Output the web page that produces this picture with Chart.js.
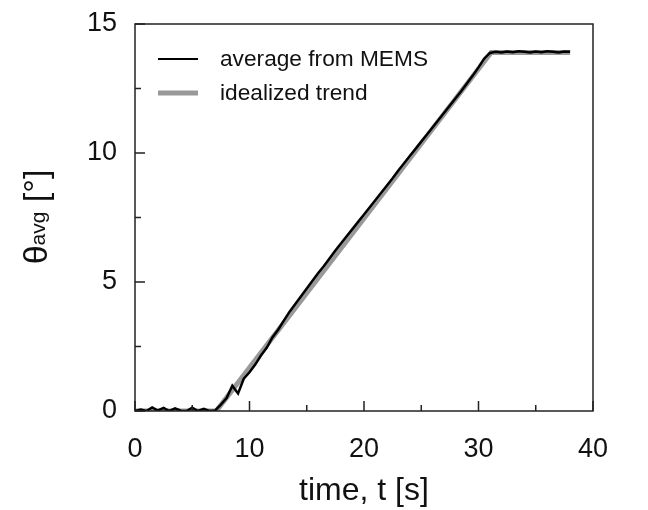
<!DOCTYPE html>
<html lang="en">
<head>
    <meta charset="UTF-8">
    <title>MEMS tilt ramp</title>
    <script src="https://cdn.jsdelivr.net/npm/chart.js"></script>
</head>
<style>
    html, body{
        margin: 0;
        padding: 0;
        background: #ffffff;
    }
    .box{
        width: 648px;
        height: 510px;
    }
</style>
<body>
    <div class="box">
        <canvas id="graficoTheta" width="648" height="510"></canvas>
    </div>
<script>
// measured average angle (MEMS), sampled every 0.5 s
const timeMems = [
  0, 0.5, 1, 1.5, 2, 2.5, 3, 3.5, 4, 4.5, 5, 5.5, 6, 6.5, 7, 7.5, 8, 8.5, 9, 9.5,
  10, 10.5, 11, 11.5, 12, 12.5, 13, 13.5, 14, 14.5, 15, 15.5, 16, 16.5, 17, 17.5, 18, 18.5, 19, 19.5,
  20, 20.5, 21, 21.5, 22, 22.5, 23, 23.5, 24, 24.5, 25, 25.5, 26, 26.5, 27, 27.5, 28, 28.5, 29, 29.5,
  30, 30.5, 31, 31.5, 32, 32.5, 33, 33.5, 34, 34.5, 35, 35.5, 36, 36.5, 37, 37.5, 38
];
const thetaMems = [
  0.00, 0.06, 0.00, 0.14, 0.02, 0.12, 0.00, 0.10, 0.01, 0.00, 0.13, 0.00, 0.08, 0.00, 0.02, 0.25, 0.50, 0.98, 0.68, 1.25,
  1.50, 1.80, 2.15, 2.45, 2.85, 3.15, 3.50, 3.85, 4.15, 4.45, 4.75, 5.05, 5.35, 5.62, 5.92, 6.22, 6.50, 6.78, 7.06, 7.34,
  7.62, 7.90, 8.18, 8.46, 8.74, 9.02, 9.32, 9.60, 9.88, 10.16, 10.44, 10.72, 11.00, 11.28, 11.56, 11.84, 12.12, 12.40, 12.70, 13.00,
  13.32, 13.66, 13.88, 13.92, 13.90, 13.93, 13.91, 13.94, 13.92, 13.90, 13.93, 13.91, 13.94, 13.92, 13.90, 13.93, 13.92
];

// idealized ramp
const timeTrend = [0, 7.1, 31.1, 38];
const thetaTrend = [0, 0, 13.9, 13.9];

const xTicks = [0, 10, 20, 30, 40];
const xMinor = [5, 15, 25, 35];
const yTicks = [0, 5, 10, 15];
const yMinor = [2.5, 7.5, 12.5];

const legendLabels = ['average from MEMS', 'idealized trend'];

const pontos = (xs, ys) => xs.map((x, i) => ({ x: x, y: ys[i] }));
const fonte = '"Liberation Sans", Arial, sans-serif';

// frame, inward ticks, y title with subscript and legend inside the plot
const moldura = {
  id: 'moldura',
  afterDatasetsDraw(chart) {
    const ctx = chart.ctx;
    const a = chart.chartArea;
    const sx = chart.scales.x;
    const sy = chart.scales.y;
    ctx.save();
    ctx.strokeStyle = '#222';
    ctx.lineWidth = 1.5;
    ctx.strokeRect(a.left, a.top, a.right - a.left, a.bottom - a.top);

    ctx.beginPath();
    xTicks.forEach(v => { const p = sx.getPixelForValue(v); ctx.moveTo(p, a.bottom); ctx.lineTo(p, a.bottom - 10); });
    xMinor.forEach(v => { const p = sx.getPixelForValue(v); ctx.moveTo(p, a.bottom); ctx.lineTo(p, a.bottom - 6); });
    yTicks.forEach(v => { const p = sy.getPixelForValue(v); ctx.moveTo(a.left, p); ctx.lineTo(a.left + 10, p); });
    yMinor.forEach(v => { const p = sy.getPixelForValue(v); ctx.moveTo(a.left, p); ctx.lineTo(a.left + 6, p); });
    ctx.stroke();

    // legend
    const cores = ['#000000', '#999999'];
    const larguras = [2, 5];
    const linhasY = [59, 93];
    ctx.font = '22.7px ' + fonte;
    ctx.fillStyle = '#111';
    ctx.textBaseline = 'middle';
    legendLabels.forEach((txt, i) => {
      ctx.beginPath();
      ctx.strokeStyle = cores[i];
      ctx.lineWidth = larguras[i];
      ctx.moveTo(158, linhasY[i]);
      ctx.lineTo(198, linhasY[i]);
      ctx.stroke();
      ctx.fillText(txt, 220, linhasY[i] + 1);
    });

    // y title: θ_avg [°]
    ctx.translate(47, 217);
    ctx.rotate(-Math.PI / 2);
    ctx.textBaseline = 'alphabetic';
    const fBig = '34px ' + fonte;
    const fSub = '21px ' + fonte;
    ctx.font = fBig;
    const w1 = ctx.measureText('θ').width;
    const w3 = ctx.measureText(' [°]').width;
    ctx.font = fSub;
    const w2 = ctx.measureText('avg').width;
    let x0 = -(w1 + w2 + w3) / 2;
    ctx.font = fBig;
    ctx.fillText('θ', x0, 0);
    ctx.font = fSub;
    ctx.fillText('avg', x0 + w1, -2);
    ctx.font = fBig;
    ctx.fillText(' [°]', x0 + w1 + w2, 0);
    ctx.restore();
  }
};

new Chart(document.getElementById('graficoTheta'), {
  type: 'line',
  data: {
    datasets: [
      {
        label: legendLabels[0],
        data: pontos(timeMems, thetaMems),
        borderColor: '#000000',
        borderWidth: 2.5,
        pointRadius: 0,
        tension: 0
      },
      {
        label: legendLabels[1],
        data: pontos(timeTrend, thetaTrend),
        borderColor: '#999999',
        borderWidth: 5,
        pointRadius: 0,
        tension: 0
      }
    ]
  },
  options: {
    responsive: false,
    animation: false,
    layout: { padding: { top: 24, right: 55, left: 0, bottom: 0 } },
    plugins: {
      legend: { display: false },
      tooltip: { enabled: false }
    },
    scales: {
      x: {
        type: 'linear',
        min: 0,
        max: 40,
        afterFit(s) { s.height = 99; s.paddingLeft = 0; s.paddingRight = 0; },
        grid: { display: false, drawTicks: false },
        border: { display: false },
        ticks: {
          stepSize: 10,
          padding: 22,
          color: '#111',
          font: { family: fonte, size: 27 }
        },
        title: {
          display: true,
          text: 'time, t [s]',
          color: '#111',
          padding: { top: 2, bottom: 0 },
          font: { family: fonte, size: 32 }
        }
      },
      y: {
        min: 0,
        max: 15,
        afterFit(s) { s.width = 135; s.paddingTop = 0; s.paddingBottom = 0; },
        grid: { display: false, drawTicks: false },
        border: { display: false },
        ticks: {
          stepSize: 5,
          padding: 18,
          color: '#111',
          font: { family: fonte, size: 27 }
        }
      }
    }
  },
  plugins: [moldura]
});
</script>
</body>
</html>
